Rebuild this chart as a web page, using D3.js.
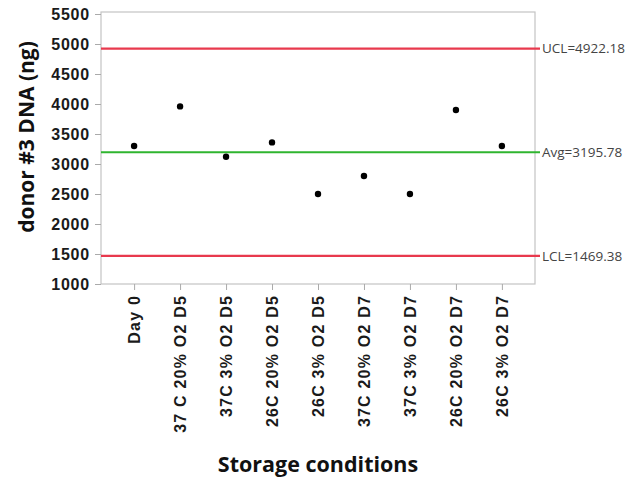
<!DOCTYPE html>
<html>
<head>
<meta charset="utf-8">
<script src="https://cdn.jsdelivr.net/npm/d3@7.9.0/dist/d3.min.js"></script>
<style>
  body { margin: 0; background: #fff; }
  svg { font-family: "Open Sans", "Noto Sans", sans-serif; }
</style>
</head>
<body>
<svg id="chart" width="628" height="479"></svg>
<script>
const conditions = ["Day 0", "37 C 20% O2 D5", "37C 3% O2 D5", "26C 20% O2 D5", "26C 3% O2 D5",
                    "37C 20% O2 D7", "37C 3% O2 D7", "26C 20% O2 D7", "26C 3% O2 D7"];
const dnaValues = [3300, 3960, 3120, 3360, 2500, 2800, 2500, 3900, 3300];
const yTicks = [1000, 1500, 2000, 2500, 3000, 3500, 4000, 4500, 5000, 5500];
const limits = [
  { label: "UCL=4922.18", value: 4922.18, color: "#e8394d" },
  { label: "Avg=3195.78", value: 3195.78, color: "#2fb52f" },
  { label: "LCL=1469.38", value: 1469.38, color: "#e8394d" }
];

const plotLeft = 101, plotRight = 535, plotTop = 12, plotBottom = 284;
const svg = d3.select("#chart");

const x = d3.scalePoint().domain(conditions).range([plotLeft, plotRight]).padding(0.72);
const y = d3.scaleLinear().domain([1000, 5500]).range([plotBottom, 14]);

// frame
svg.append("rect")
  .attr("x", plotLeft).attr("y", plotTop)
  .attr("width", plotRight - plotLeft).attr("height", plotBottom - plotTop)
  .attr("fill", "none").attr("stroke", "#c4c4c4").attr("stroke-width", 1.2);

// y axis
const yAxis = svg.append("g")
  .attr("transform", `translate(${plotLeft},0)`)
  .call(d3.axisLeft(y).tickValues(yTicks).tickSize(6).tickPadding(5).tickFormat(d3.format("d")));
yAxis.select(".domain").remove();
yAxis.selectAll(".tick line").attr("stroke", "#aaa");
yAxis.selectAll(".tick text")
  .attr("fill", "#1a1a1a").style("font-size", "16px").style("font-weight", "bold")
  .style("letter-spacing", "0.8px");

// x axis
const xAxis = svg.append("g")
  .attr("transform", `translate(0,${plotBottom})`)
  .call(d3.axisBottom(x).tickSize(6));
xAxis.select(".domain").remove();
xAxis.selectAll(".tick line").attr("stroke", "#aaa");
xAxis.selectAll(".tick text")
  .attr("fill", "#1a1a1a").style("font-size", "16px").style("font-weight", "bold")
  .style("letter-spacing", "1.2px")
  .attr("text-anchor", "end")
  .attr("transform", "rotate(-90)")
  .attr("x", -11).attr("y", 0).attr("dy", "0.35em");

// control lines
limits.forEach(l => {
  svg.append("line")
    .attr("x1", plotLeft).attr("x2", plotRight + 5)
    .attr("y1", y(l.value)).attr("y2", y(l.value))
    .attr("stroke", l.color).attr("stroke-width", 2.2);
  svg.append("text")
    .attr("x", plotRight + 7).attr("y", y(l.value)).attr("dy", "0.35em")
    .attr("fill", "#444").style("font-size", "13.5px")
    .text(l.label);
});

// points
svg.append("g").selectAll("circle")
  .data(dnaValues)
  .join("circle")
  .attr("cx", (d, i) => x(conditions[i]))
  .attr("cy", d => y(d))
  .attr("r", 3.2)
  .attr("fill", "#000");

// titles
svg.append("text")
  .attr("transform", `translate(34,${(plotTop + plotBottom) / 2 - 11}) rotate(-90)`)
  .attr("text-anchor", "middle")
  .attr("fill", "#111").style("font-size", "21px").style("font-weight", "bold")
  .text("donor #3 DNA (ng)");

svg.append("text")
  .attr("x", 318).attr("y", 472)
  .attr("text-anchor", "middle")
  .attr("fill", "#111").style("font-size", "21.5px").style("font-weight", "bold")
  .text("Storage conditions");
</script>
</body>
</html>
